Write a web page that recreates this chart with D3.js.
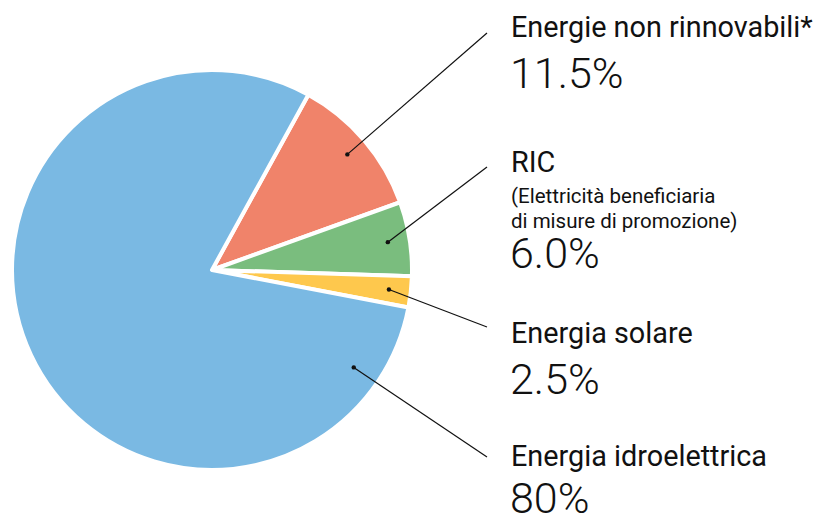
<!DOCTYPE html>
<html><head><meta charset="utf-8">
<script src="https://cdn.jsdelivr.net/npm/d3@7"></script>
<style>html,body{margin:0;padding:0;background:#fff;}svg{display:block;}</style>
</head><body>
<svg id="chart" width="829" height="520"></svg>
<script>
const categories = ["Energie non rinnovabili*", "RIC", "Energia solare", "Energia idroelettrica"];
const subtitles = [[], ["(Elettricità beneficiaria", "di misure di promozione)"], [], []];
const values = [11.5, 6.0, 2.5, 80];
const valueLabels = ["11.5%", "6.0%", "2.5%", "80%"];
const colors = ["#f0836a", "#7abd7e", "#fec84d", "#7ab9e3"];

const svg = d3.select("#chart");
const cx = 212, cy = 270, R = 200;
const start = 0.08 * 2 * Math.PI;
const pie = d3.pie().sort(null).value(d => d).startAngle(start).endAngle(start + 2 * Math.PI);
const arcs = pie(values);
const arc = d3.arc().innerRadius(0).outerRadius(R);
const g = svg.append("g").attr("transform", `translate(${cx},${cy})`);
g.selectAll("path").data(arcs).join("path")
  .attr("d", arc).attr("fill", (d, i) => colors[i])
  .attr("stroke", "#fff").attr("stroke-width", 4).attr("stroke-linejoin", "round");

// leader line settings (layout, not data)
const dotAngleOverride = [null, null, null, 124.5 * Math.PI / 180];
const dotR = [178, 178, 178, 172];
const lineEnd = [[487, 33], [487, 167], [487, 327], [487, 457]];
const textTop = [37, 172, 343, 466];
const valueBase = [88, 268, 394, 513];

arcs.forEach((a, i) => {
  const ang = dotAngleOverride[i] != null ? dotAngleOverride[i] : (a.startAngle + a.endAngle) / 2;
  const x = cx + dotR[i] * Math.sin(ang), y = cy - dotR[i] * Math.cos(ang);
  svg.append("line").attr("x1", x).attr("y1", y).attr("x2", lineEnd[i][0]).attr("y2", lineEnd[i][1])
    .attr("stroke", "#111").attr("stroke-width", 1.2);
  svg.append("circle").attr("cx", x).attr("cy", y).attr("r", 2.2).attr("fill", "#111");
});

const tx = 511;
categories.forEach((c, i) => {
  let y = textTop[i];
  svg.append("text").attr("x", tx).attr("y", y).text(c)
    .attr("font-family", "Roboto").attr("font-size", 28.8).attr("fill", "#111");
  subtitles[i].forEach((s, j) => {
    y += (j === 0 ? 31 : 25);
    svg.append("text").attr("x", tx).attr("y", y).text(s)
      .attr("font-family", "Roboto").attr("font-size", 20.5).attr("fill", "#111");
  });
  svg.append("text").attr("x", tx - 1).attr("y", valueBase[i]).text(valueLabels[i])
    .attr("font-family", "Roboto").attr("font-weight", 300).attr("font-size", 43).attr("fill", "#111");
});
</script>
</body></html>
